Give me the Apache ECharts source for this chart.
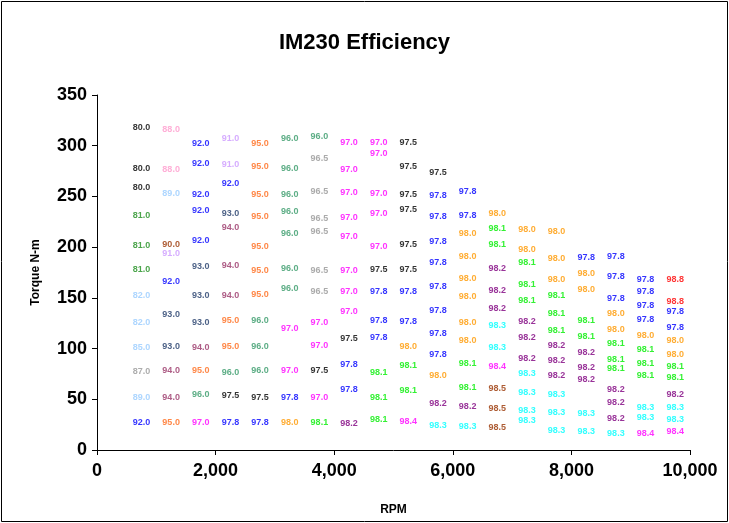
<!DOCTYPE html>
<html>
<head>
<meta charset="utf-8">
<script src="https://cdn.jsdelivr.net/npm/echarts@6/dist/echarts.min.js"></script>
<style>
html,body{margin:0;padding:0;background:#fff;}
#chart{width:729px;height:523px;}
</style>
</head>
<body>
<div id="chart"></div>
<script>
// RPM of each measured column
const rpmColumns = [750, 1250, 1750, 2250, 2750, 3250, 3750, 4250, 4750, 5250, 5750, 6250, 6750, 7250, 7750, 8250, 8750, 9250, 9750];

// Torque (N-m) and efficiency (%) per column
const torqueCol1 = [318, 278, 259, 231, 202, 178, 152, 126, 101, 77, 52, 27];
const effCol1    = [80.0, 80.0, 80.0, 81.0, 81.0, 81.0, 82.0, 82.0, 85.0, 87.0, 89.0, 92.0];
const torqueCol2 = [316, 277, 253, 203, 194, 166, 134, 102, 78, 52, 27];
const effCol2    = [88.0, 88.0, 89.0, 90.0, 91.0, 92.0, 93.0, 93.0, 94.0, 94.0, 95.0];
const torqueCol3 = [302, 282, 252, 236, 207, 181, 152, 126, 101, 78, 55, 27];
const effCol3    = [92.0, 92.0, 92.0, 92.0, 92.0, 93.0, 93.0, 93.0, 94.0, 95.0, 96.0, 97.0];
const torqueCol4 = [307, 281, 263, 233, 219, 182, 152, 128, 102, 76, 54, 27];
const effCol4    = [91.0, 91.0, 92.0, 93.0, 94.0, 94.0, 94.0, 95.0, 95.0, 96.0, 97.5, 97.8];
const torqueCol5 = [302, 279, 252, 230, 201, 177, 153, 128, 102, 78, 52, 27];
const effCol5    = [95.0, 95.0, 95.0, 95.0, 95.0, 95.0, 95.0, 96.0, 96.0, 96.0, 97.5, 97.8];
const torqueCol6 = [307, 278, 252, 235, 213, 179, 159, 120, 78, 52, 27];
const effCol6    = [96.0, 96.0, 96.0, 96.0, 96.0, 96.0, 96.0, 97.0, 97.0, 97.8, 98.0];
const torqueCol7 = [309, 287, 255, 228, 215, 177, 156, 126, 103, 78, 52, 27];
const effCol7    = [96.0, 96.5, 96.5, 96.5, 96.5, 96.5, 96.5, 97.0, 97.0, 97.5, 97.0, 98.1];
const torqueCol8 = [303, 277, 254, 229, 210, 177, 156, 137, 110, 84, 60, 26];
const effCol8    = [97.0, 97.0, 97.0, 97.0, 97.0, 97.0, 97.0, 97.0, 97.5, 97.8, 97.8, 98.2];
const torqueCol9 = [303, 292, 253, 233, 201, 178, 156, 128, 111, 76, 52, 30];
const effCol9    = [97.0, 97.0, 97.0, 97.0, 97.0, 97.5, 97.8, 97.8, 97.8, 98.1, 98.1, 98.1];
const torqueCol10 = [303, 279, 252, 237, 203, 178, 156, 127, 102, 83, 59, 28];
const effCol10    = [97.5, 97.5, 97.5, 97.5, 97.5, 97.5, 97.8, 97.8, 98.0, 98.1, 98.1, 98.4];
const torqueCol11 = [274, 251, 230, 206, 185, 161, 138, 115, 94, 73, 46, 24];
const effCol11    = [97.5, 97.8, 97.8, 97.8, 97.8, 97.8, 97.8, 97.8, 97.8, 98.0, 98.2, 98.3];
const torqueCol12 = [255, 231, 213, 191, 169, 151, 126, 108, 85, 62, 43, 23];
const effCol12    = [97.8, 97.8, 98.0, 98.0, 98.0, 98.0, 98.0, 98.0, 98.1, 98.1, 98.2, 98.3];
const torqueCol13 = [233, 218, 203, 179, 157, 139, 123, 101, 82, 61, 41, 22];
const effCol13    = [98.0, 98.1, 98.1, 98.2, 98.2, 98.2, 98.3, 98.3, 98.4, 98.5, 98.5, 98.5];
const torqueCol14 = [217, 198, 185, 163, 147, 127, 111, 90, 75, 57, 39, 29];
const effCol14    = [98.0, 98.0, 98.1, 98.1, 98.1, 98.2, 98.2, 98.2, 98.3, 98.3, 98.3, 98.3];
const torqueCol15 = [215, 189, 168, 152, 135, 118, 103, 88, 73, 55, 37, 19];
const effCol15    = [98.0, 98.0, 98.0, 98.1, 98.1, 98.1, 98.2, 98.2, 98.2, 98.3, 98.3, 98.3];
const torqueCol16 = [190, 174, 158, 128, 112, 96, 81, 69, 36, 18];
const effCol16    = [97.8, 98.0, 98.0, 98.1, 98.1, 98.2, 98.2, 98.2, 98.3, 98.3];
const torqueCol17 = [191, 171, 149, 135, 119, 105, 89, 80, 60, 47, 31, 16];
const effCol17    = [97.8, 97.8, 97.8, 98.0, 98.0, 98.1, 98.1, 98.1, 98.2, 98.2, 98.2, 98.3];
const torqueCol18 = [168, 156, 142, 129, 113, 99, 85, 73, 42, 32, 16];
const effCol18    = [97.8, 97.8, 97.8, 97.8, 98.0, 98.1, 98.1, 98.1, 98.3, 98.3, 98.4];
const torqueCol19 = [168, 146, 137, 121, 108, 94, 82, 71, 55, 42, 30, 18];
const effCol19    = [98.8, 98.8, 97.8, 97.8, 98.0, 98.0, 98.1, 98.1, 98.2, 98.3, 98.3, 98.4];

const xTicks = [0, 2000, 4000, 6000, 8000, 10000];
const yTicks = [0, 50, 100, 150, 200, 250, 300, 350];

const torqueCols = [torqueCol1, torqueCol2, torqueCol3, torqueCol4, torqueCol5, torqueCol6, torqueCol7, torqueCol8, torqueCol9, torqueCol10, torqueCol11, torqueCol12, torqueCol13, torqueCol14, torqueCol15, torqueCol16, torqueCol17, torqueCol18, torqueCol19];
const effCols = [effCol1, effCol2, effCol3, effCol4, effCol5, effCol6, effCol7, effCol8, effCol9, effCol10, effCol11, effCol12, effCol13, effCol14, effCol15, effCol16, effCol17, effCol18, effCol19];

// label colour per efficiency level
const effColors = {
  '80.0': '#000000', '81.0': '#1f8f1f', '82.0': '#99ccff', '85.0': '#99ccff',
  '87.0': '#999999', '88.0': '#ff99cc', '89.0': '#99ccff', '90.0': '#993300',
  '91.0': '#cc99ff', '92.0': '#0000ff', '93.0': '#1f3a68', '94.0': '#993366',
  '95.0': '#ff6a1a', '96.0': '#339966', '96.5': '#969696', '97.0': '#ff00ff',
  '97.5': '#000000', '97.8': '#0000ff', '98.0': '#ff9900', '98.1': '#00ee00',
  '98.2': '#800080', '98.3': '#00ffff', '98.4': '#ff00ff', '98.5': '#993300',
  '98.8': '#ff0000'
};

const points = [];
rpmColumns.forEach((rpm, i) => {
  torqueCols[i].forEach((t, j) => {
    const e = effCols[i][j];
    points.push({
      value: [rpm, t, e],
      label: { color: effColors[e.toFixed(1)] || '#000' }
    });
  });
});

const FONT = 'Arial, "Liberation Sans", sans-serif';
const chart = echarts.init(document.getElementById('chart'), null, {renderer: 'canvas'});
chart.setOption({
  animation: false,
  backgroundColor: '#ffffff',
  title: {
    text: 'IM230 Efficiency',
    left: 'center',
    top: 27,
    textStyle: { fontFamily: FONT, fontSize: 22, fontWeight: 'bold', color: '#000' }
  },
  grid: { left: 97, right: 39, top: 95, bottom: 73, containLabel: false },
  xAxis: {
    type: 'value',
    min: xTicks[0], max: xTicks[xTicks.length - 1], interval: xTicks[1] - xTicks[0],
    name: 'RPM', nameLocation: 'middle', nameGap: 54,
    nameTextStyle: { fontFamily: FONT, fontSize: 12, fontWeight: 'bold', color: '#000' },
    axisLine: { show: true, lineStyle: { color: '#000', width: 1 } },
    axisTick: { show: true, length: 5, lineStyle: { color: '#000' } },
    splitLine: { show: false },
    axisLabel: {
      fontFamily: FONT, fontSize: 18, fontWeight: 'bold', color: '#000', margin: 12,
      formatter: v => v.toLocaleString('en-US')
    }
  },
  yAxis: {
    type: 'value',
    min: yTicks[0], max: yTicks[yTicks.length - 1], interval: yTicks[1] - yTicks[0],
    name: 'Torque N-m', nameLocation: 'middle', nameGap: 55, nameRotate: 90,
    nameTextStyle: { fontFamily: FONT, fontSize: 12, fontWeight: 'bold', color: '#000' },
    axisLine: { show: true, lineStyle: { color: '#000', width: 1 } },
    axisTick: { show: true, length: 5, lineStyle: { color: '#000' } },
    splitLine: { show: false },
    axisLabel: { fontFamily: FONT, fontSize: 18, fontWeight: 'bold', color: '#000', margin: 10 }
  },
  series: [{
    type: 'scatter',
    symbolSize: 1,
    itemStyle: { color: 'rgba(0,0,0,0)' },
    data: points,
    label: {
      show: true,
      position: 'inside',
      fontFamily: FONT, fontSize: 9, fontWeight: 'bold',
      formatter: p => p.value[2].toFixed(1)
    },
    labelLayout: { hideOverlap: false },
    emphasis: { disabled: true }
  }],
  graphic: [{
    type: 'rect',
    shape: { x: 1.5, y: 1.5, width: 726, height: 520 },
    style: { fill: 'none', stroke: '#000', lineWidth: 1 },
    silent: true
  }]
});
</script>
</body>
</html>
